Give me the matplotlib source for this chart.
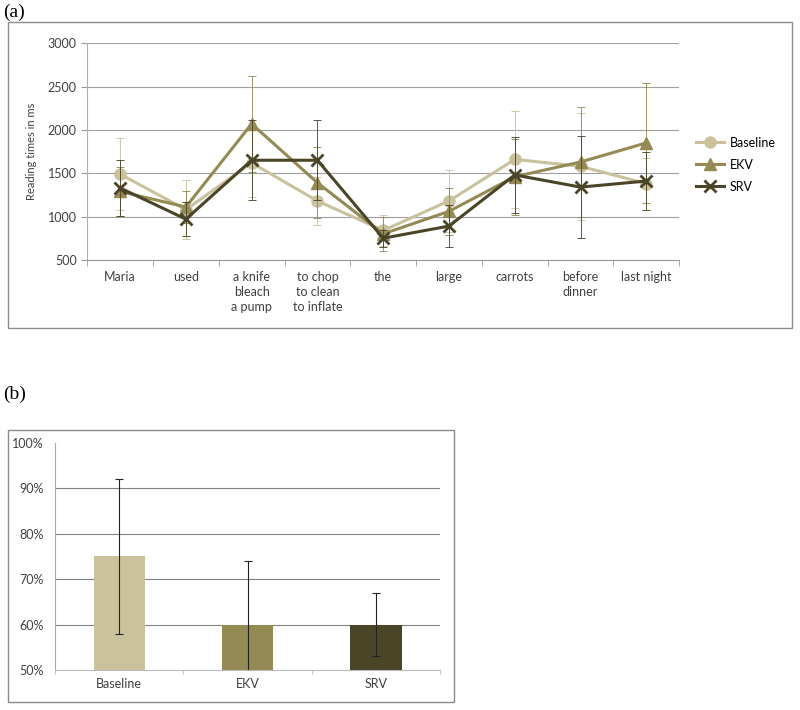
import numpy as np
import matplotlib
matplotlib.use('Agg')
import matplotlib.pyplot as plt
from matplotlib.patches import Rectangle
from matplotlib.ticker import FixedLocator, FuncFormatter

plt.rcParams['font.family'] = ['Lato', 'DejaVu Sans']

# --- data: panel (a) reading times ---
regions = ['Maria', 'used', 'a knife\nbleach\na pump', 'to chop\nto clean\nto inflate',
           'the', 'large', 'carrots', 'before\ndinner', 'last night']
baseline = [1490, 1080, 1620, 1180, 840, 1180, 1660, 1580, 1380]
baseline_err = [420, 340, 400, 280, 180, 360, 560, 620, 300]
ekv = [1290, 1110, 2070, 1390, 800, 1060, 1460, 1630, 1850]
ekv_err = [280, 180, 550, 410, 200, 270, 440, 640, 690]
srv = [1330, 970, 1650, 1650, 750, 890, 1480, 1340, 1410]
srv_err = [320, 200, 460, 460, 100, 240, 440, 590, 340]

# --- data: panel (b) accuracy ---
conditions = ['Baseline', 'EKV', 'SRV']
accuracy = [75, 60, 60]
accuracy_err = [17, 14, 7]

c_base = '#C9C29C'
c_ekv = '#948A54'
c_srv = '#4A4527'
grey_txt = '#404040'

fig = plt.figure(figsize=(8, 7.1), dpi=100)

# panel frames
fig.patches.append(Rectangle((0.01, 0.538), 0.98, 0.431, transform=fig.transFigure,
                             fill=False, edgecolor='#8c8c8c', lw=1))
fig.patches.append(Rectangle((0.01, 0.0113), 0.558, 0.383, transform=fig.transFigure,
                             fill=False, edgecolor='#8c8c8c', lw=1))
fig.text(0.004, 0.982, '(a)', family='Liberation Serif', fontsize=14, va='center')
fig.text(0.004, 0.444, '(b)', family='Liberation Serif', fontsize=14, va='center')

# ---- panel (a) ----
ax = fig.add_axes([0.109, 0.634, 0.74, 0.305])
x = np.arange(len(regions))
series = [('Baseline', baseline, baseline_err, c_base, 'o', 8),
          ('EKV', ekv, ekv_err, c_ekv, '^', 8),
          ('SRV', srv, srv_err, c_srv, 'x', 9)]
handles = []
for name, vals, errs, col, mk, ms in series:
    ax.errorbar(x, vals, yerr=errs, fmt='none', ecolor=col, elinewidth=0.7, capsize=3,
                capthick=0.7, alpha=0.9)
    ln, = ax.plot(x, vals, color=col, lw=2.2, marker=mk, markersize=ms,
                  mew=2 if mk == 'x' else 1, label=name)
    handles.append(ln)
ax.set_xlim(-0.5, len(regions) - 0.5)
ax.set_ylim(500, 3000)
ax.set_yticks(np.arange(500, 3001, 500))
ax.set_xticks(x)
ax.set_xticklabels(regions, fontsize=9, color=grey_txt, linespacing=1.3)
ax.xaxis.set_minor_locator(FixedLocator(np.arange(-0.5, len(regions), 1)))
ax.tick_params(axis='x', which='major', length=0, pad=8)
ax.tick_params(axis='x', which='minor', length=4, color='#999999')
ax.tick_params(axis='y', labelsize=9, labelcolor=grey_txt, length=4, color='#999999')
ax.yaxis.grid(True, color='#a0a0a0', lw=0.8)
ax.set_axisbelow(True)
for s in ['top', 'right']:
    ax.spines[s].set_visible(False)
ax.spines['left'].set_color('#b0b0b0')
ax.spines['bottom'].set_color('#999999')
ax.set_ylabel('Reading times in ms', fontsize=8, color=grey_txt, labelpad=8)
ax.legend(handles=handles, loc='center left', bbox_to_anchor=(1.01, 0.44), frameon=False,
          fontsize=9, handlelength=2.2, labelspacing=0.8, handletextpad=0.5)

# ---- panel (b) ----
bx = fig.add_axes([0.069, 0.0563, 0.481, 0.32])
xb = np.arange(len(conditions))
bx.bar(xb, accuracy, width=0.4, color=[c_base, c_ekv, c_srv])
bx.errorbar(xb, accuracy, yerr=accuracy_err, fmt='none', ecolor='#222222', elinewidth=0.8,
            capsize=3, capthick=0.8)
bx.set_xlim(-0.5, len(conditions) - 0.5)
bx.set_ylim(50, 100)
bx.set_yticks(np.arange(50, 101, 10))
bx.yaxis.set_major_formatter(FuncFormatter(lambda v, p: f'{v:.0f}%'))
bx.set_xticks(xb)
bx.set_xticklabels(conditions, fontsize=9, color=grey_txt)
bx.xaxis.set_minor_locator(FixedLocator(np.arange(-0.5, len(conditions), 1)))
bx.tick_params(axis='x', which='major', length=0, pad=6)
bx.tick_params(axis='x', which='minor', length=3, color='#bbbbbb')
bx.tick_params(axis='y', labelsize=9, labelcolor=grey_txt, length=0, pad=8)
for v in range(60, 100, 10):
    bx.axhline(v, color='#808080', lw=0.8, zorder=0)
for s in ['top', 'right']:
    bx.spines[s].set_visible(False)
bx.spines['left'].set_color('#aaaaaa')
bx.spines['bottom'].set_color('#bbbbbb')

fig.savefig('out.png', dpi=100)
